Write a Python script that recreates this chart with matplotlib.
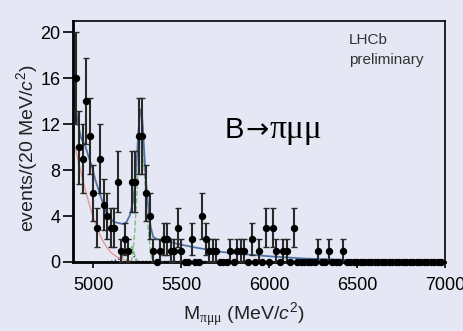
import numpy as np
import matplotlib
matplotlib.use("Agg")
import matplotlib.pyplot as plt

plt.rcParams['font.family'] = ['Liberation Sans', 'DejaVu Sans']
plt.rcParams['mathtext.fontset'] = 'custom'
plt.rcParams['mathtext.rm'] = 'Liberation Serif'
plt.rcParams['mathtext.sf'] = 'Liberation Sans'
plt.rcParams['mathtext.it'] = 'Liberation Sans:italic'

# candidates per 20 MeV bin, bin centres from 4900 to 6980 MeV
mass = list(range(4900, 7000, 20))
counts = [16, 10, 9, 14, 11, 6, 3, 9, 5, 4,
          3, 3, 7, 1, 2, 1, 7, 7, 11, 11,
          6, 4, 1, 0, 1, 2, 2, 1, 1, 3,
          1, 0, 0, 2, 0, 0, 4, 2, 1, 1,
          1, 0, 0, 0, 1, 0, 1, 1, 1, 0,
          2, 0, 1, 0, 3, 0, 3, 1, 0, 1,
          1, 0, 3, 0, 0, 0, 0, 0, 0, 1,
          0, 0, 1, 0, 0, 0, 1, 0, 0, 0,
          0, 0, 0, 0, 0, 0, 0, 0, 0, 0,
          0, 0, 0, 0, 0, 0, 0, 0, 0, 0,
          0, 0, 0, 0, 0]

# fit components
total_m = [4887, 4894, 4908, 4921, 4931, 4942, 4955, 4973, 4993, 5011, 5030,
           5049, 5068, 5087, 5115, 5143, 5171, 5190, 5209, 5228, 5243, 5256,
           5264, 5270, 5276, 5282, 5288, 5299, 5313, 5326, 5341, 5360, 5397,
           5473, 5567, 5661, 5718, 5800, 6000, 6200, 6500, 6750, 7000]
total_v = [15.3, 14.1, 12.7, 11.5, 10.8, 10.5, 10.1, 9.2, 8.3, 7.2, 6.3,
           5.4, 4.5, 4.0, 3.5, 3.4, 3.3, 3.5, 4.1, 5.4, 7.7, 11.2,
           12.6, 13.3, 13.0, 11.8, 10.1, 7.2, 4.8, 3.1, 2.2, 2.0, 1.9,
           1.6, 1.3, 1.05, 0.9, 0.75, 0.5, 0.3, 0.15, 0.1, 0.08]

comb_m = [4887, 4900, 4920, 4940, 4960, 4980, 5000, 5020, 5040, 5060, 5080,
          5100, 5120, 5140, 5160, 5180, 5200, 5230, 5260]
comb_v = [10.5, 9.8, 8.5, 7.2, 6.0, 4.9, 3.9, 3.0, 2.3, 1.7, 1.2,
          0.85, 0.6, 0.4, 0.27, 0.17, 0.1, 0.04, 0.0]

sig_m = [5215, 5224, 5237, 5250, 5260, 5266, 5271, 5276, 5282, 5288, 5299,
         5313, 5326, 5341]
sig_v = [0.0, 0.5, 2.8, 6.3, 9.5, 10.8, 11.2, 11.0, 10.0, 8.6, 5.7,
         2.8, 0.76, 0.0]

bump_m = [5185, 5200, 5212, 5220, 5228, 5240, 5255]
bump_v = [0.0, 0.5, 1.1, 1.35, 1.1, 0.4, 0.0]

misid_m = [5060, 5100, 5140, 5170, 5195, 5210, 5220, 5235, 5250, 5400, 7000]
misid_v = [0.0, 0.05, 0.2, 0.45, 0.9, 1.2, 1.1, 0.4, 0.05, 0.05, 0.05]

bg = '#e5e8f4'
fig = plt.figure(figsize=(4.64, 3.31), dpi=100, facecolor=bg)
ax = fig.add_axes([73/464, 1 - 262/331, 372/464, 241/331])
ax.set_facecolor(bg)

ax.plot(comb_m, comb_v, color='#e59a92', lw=1.0)
ax.plot(misid_m, misid_v, color='#1c2340', lw=1.0, ls=':')
ax.plot(sig_m, sig_v, color='#7cc07a', lw=1.0, ls='--')
ax.plot(bump_m, bump_v, color='#7cc07a', lw=1.0, ls='--')
ax.plot(total_m, total_v, color='#4f74a8', lw=1.3)

counts = np.array(counts, dtype=float)
ax.errorbar(mass, counts, yerr=np.sqrt(counts), fmt='o', color='black',
            ecolor='#2a2a2a', ms=4.3, elinewidth=1.5, capsize=2,
            capthick=1.0, clip_on=False, zorder=5)

ax.set_xlim(4885, 7000)
ax.set_ylim(0, 21)
ax.set_xticks([5000, 5500, 6000, 6500, 7000])
ax.set_yticks([0, 4, 8, 12, 16, 20])
ax.tick_params(axis='y', direction='out', length=7.5, width=1.2, pad=1.5,
               labelsize=13)
ax.tick_params(axis='x', direction='out', length=4.5, width=1.2, pad=6,
               labelsize=13)
for s in ['left', 'bottom']:
    ax.spines[s].set_linewidth(2.0)
for s in ['top', 'right']:
    ax.spines[s].set_linewidth(1.2)

ax.set_xlabel(r'M$_{\mathrm{\pi\mu\mu}}$ (MeV/$c^{\mathsf{2}}$)', fontsize=14,
              color='#222222', va='top')
ax.xaxis.set_label_coords(0.46, -0.16)
ax.set_ylabel(r'events/(20 MeV/$c^{\mathsf{2}}$)', fontsize=14,
              color='#222222')
ax.yaxis.set_label_coords(-0.088, 0.471)

ax.text((349 - 73)/372, (262 - 43.5)/241, 'LHCb', transform=ax.transAxes,
        fontsize=11, color='#333333', ha='left', va='baseline')
ax.text((349 - 73)/372, (262 - 64)/241, 'preliminary', transform=ax.transAxes,
        fontsize=11, color='#333333', ha='left', va='baseline')
ax.text((225 - 73)/372, (262 - 137.7)/241, 'B', transform=ax.transAxes,
        fontsize=21, color='black', ha='left', va='baseline')
ax.text((245 - 73)/372, (262 - 137.7)/241, '→', transform=ax.transAxes,
        fontsize=20, color='black', ha='left', va='baseline',
        family='DejaVu Sans')
ax.text((270 - 73)/372, (262 - 137.7)/241, 'πμμ', transform=ax.transAxes,
        fontsize=24, color='black', ha='left', va='baseline',
        family='Liberation Serif')

fig.savefig('out.png', dpi=100, facecolor=bg)
